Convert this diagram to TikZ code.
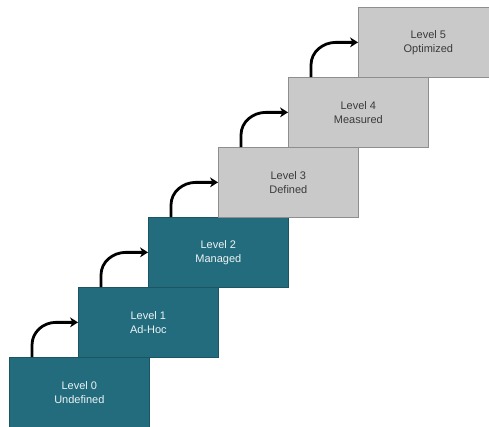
\documentclass[tikz,border=0pt]{standalone}
\usepackage{fontspec}
\setmainfont{Liberation Sans}
\usetikzlibrary{calc,arrows.meta}
\definecolor{tealbox}{HTML}{236C7D}
\definecolor{tealedge}{HTML}{1A5563}
\definecolor{graybox}{HTML}{C9C9C9}
\definecolor{grayedge}{HTML}{8E8E8E}
\definecolor{graytext}{HTML}{3A3A3A}
\begin{document}
\begin{tikzpicture}[x=1pt,y=-1pt,
  levelbox/.style={anchor=north west,minimum width=140pt,minimum height=70pt,
    inner sep=0pt,align=center,font=\fontsize{11}{14}\selectfont,line width=0.7pt},
  tealstep/.style={levelbox,fill=tealbox,draw=tealedge,text=white!92!tealbox},
  graystep/.style={levelbox,fill=graybox,draw=grayedge,text=graytext},
  upar/.style={line width=2.8pt,-{Stealth[length=8pt,width=10pt]}}]
\clip (0,0) rectangle (489,426);
\fill[white] (0,0) rectangle (489,426);
\node[tealstep] (n0) at (9,357) {Level 0\\Undefined};
\node[tealstep] (n1) at (78,287) {Level 1\\Ad-Hoc};
\node[tealstep] (n2) at (148,217) {Level 2\\Managed};
\node[graystep] (n3) at (218,147) {Level 3\\Defined};
\node[graystep] (n4) at (288,77) {Level 4\\Measured};
\node[graystep] (n5) at (358,7) {Level 5\\Optimized};
\foreach \a/\b in {n0/n1,n1/n2,n2/n3,n3/n4,n4/n5}{
  \draw[upar] ($(\a.north west)+(23,0)$) -- ($(\a.north west)+(23,-12)$)
    to[out=90,in=180] ($(\b.west)+(-22,0)$) -- (\b.west);
}
\end{tikzpicture}
\end{document}
